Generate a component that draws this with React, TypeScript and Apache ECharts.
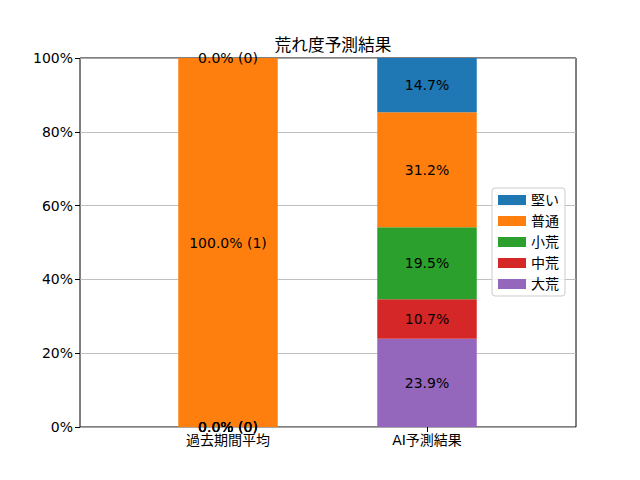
import React, { useEffect, useRef } from "react";
import * as echarts from "echarts";

const title = "荒れ度予測結果";
const categories = ["過去期間平均", "AI予測結果"];
// bottom to top stacking order
const seriesNames = ["大荒", "中荒", "小荒", "普通", "堅い"];
const legendOrder = ["堅い", "普通", "小荒", "中荒", "大荒"];
const colors = ["#9467bd", "#d62728", "#2ca02c", "#ff7f0e", "#1f77b4"];
// percentage values per series [過去期間平均, AI予測結果]
const pctDaiare = [0.0, 23.9];
const pctChuare = [0.0, 10.7];
const pctShoare = [0.0, 19.5];
const pctFutsu = [100.0, 31.2];
const pctKatai = [0.0, 14.7];
// counts for past period
const countsPast = [0, 0, 0, 1, 0];
const yTicks = [0, 20, 40, 60, 80, 100];

const values = [pctDaiare, pctChuare, pctShoare, pctFutsu, pctKatai];
const FONT = "'DejaVu Sans', 'Noto Sans CJK JP', sans-serif";

export default function App() {
  const ref = useRef<HTMLDivElement>(null);
  useEffect(() => {
    document.body.style.margin = "0";
    const chart = echarts.init(ref.current!, null, { renderer: "svg" });
    const series = seriesNames.map((name, si) => ({
      name,
      type: "bar",
      stack: "total",
      xAxisIndex: 1,
      yAxisIndex: 1,
      barWidth: "50%",
      itemStyle: { color: colors[si] },
      label: {
        show: true,
        position: "inside",
        color: "#000",
        fontSize: 14,
        fontFamily: FONT,
        formatter: (p: any) =>
          p.dataIndex === 0
            ? `${p.value.toFixed(1)}% (${countsPast[si]})`
            : `${p.value.toFixed(1)}%`,
      },
      data: values[si],
    }));
    chart.setOption({
      animation: false,
      textStyle: { fontFamily: FONT },
      title: {
        text: title,
        left: 328,
        textAlign: "center",
        top: 32,
        textStyle: { fontSize: 16.7, fontWeight: "normal", color: "#000", fontFamily: FONT },
      },
      legend: {
        data: legendOrder,
        orient: "vertical",
        left: 492,
        top: 188,
        itemWidth: 28,
        itemHeight: 10,
        itemGap: 7,
        padding: [5, 6, 5, 6],
        borderColor: "#cccccc",
        borderWidth: 1,
        borderRadius: 3,
        backgroundColor: "rgba(255,255,255,0.8)",
        textStyle: { fontSize: 14, color: "#000", fontFamily: FONT },
        icon: "rect",
      },
      grid: [
        { left: 80, top: 58, width: 496, height: 369, show: true, borderColor: "#000", borderWidth: 1, backgroundColor: "transparent" },
        { left: 128.5, top: 58, width: 398, height: 369 },
      ],
      xAxis: [
        { type: "category", gridIndex: 0, data: [""], axisLine: { show: false }, axisTick: { show: false }, axisLabel: { show: false } },
        {
          type: "category",
          gridIndex: 1,
          data: categories,
          axisLine: { show: false },
          axisTick: { show: true, alignWithLabel: true, length: 5, lineStyle: { color: "#000" } },
          axisLabel: { color: "#000", fontSize: 14, margin: 6, fontFamily: FONT },
        },
      ],
      yAxis: [
        {
          type: "value",
          gridIndex: 0,
          min: 0,
          max: 100,
          interval: 20,
          axisLine: { show: false },
          axisTick: { show: true, length: 5, lineStyle: { color: "#000" } },
          axisLabel: { color: "#000", fontSize: 14, margin: 7, fontFamily: FONT, formatter: (v: number) => (yTicks.includes(v) ? `${v}%` : "") },
          splitLine: { show: true, lineStyle: { color: "#b0b0b0", width: 0.8 } },
        },
        { type: "value", gridIndex: 1, min: 0, max: 100, show: false, splitLine: { show: false } },
      ],
      series,
    });
    return () => chart.dispose();
  }, []);
  return <div ref={ref} style={{ width: 640, height: 480 }} />;
}
